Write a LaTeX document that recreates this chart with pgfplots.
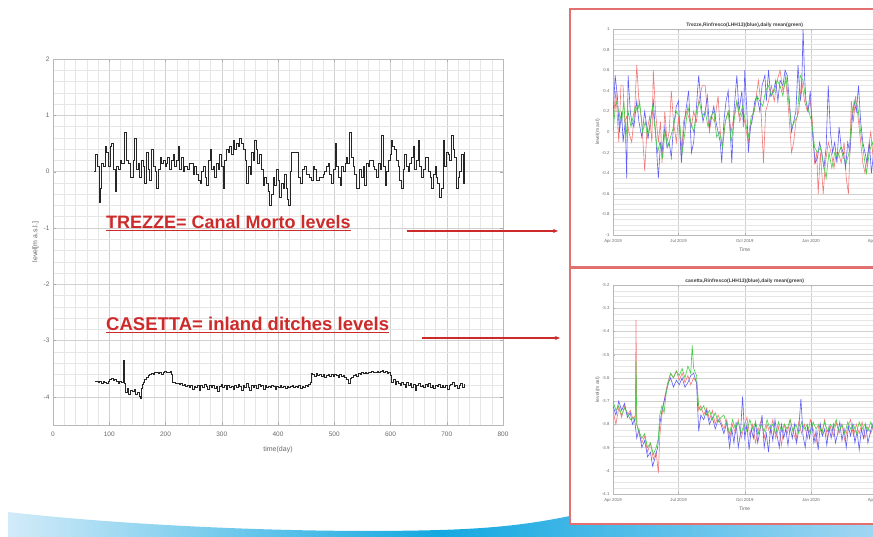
\documentclass[border=0pt]{standalone}
\usepackage{pgfplots}
\usepackage{pgfplotstable}
\pgfplotsset{compat=1.18}
\usepackage{fontspec}
\setmainfont{Liberation Sans}
\usetikzlibrary{arrows.meta}

\definecolor{gridmaj}{RGB}{208,208,208}
\definecolor{gridmin}{RGB}{230,230,230}
\definecolor{ticktxt}{RGB}{105,105,105}
\definecolor{slidered}{RGB}{205,42,42}
\definecolor{framered}{RGB}{226,112,112}
\definecolor{sBlue}{RGB}{95,95,245}
\definecolor{sRed}{RGB}{245,120,120}
\definecolor{sGreen}{RGB}{70,205,70}
\definecolor{swLight}{RGB}{210,235,248}
\definecolor{swMid}{RGB}{20,168,224}
\definecolor{swRight}{RGB}{160,214,242}

% Trezze: daily level, main series (day, level)
\pgfplotstableread{
73 0.00
75 0.30
78 0.10
82 -0.55
84 -0.30
86 0.15
90 0.10
93 0.45
95 0.35
98 0.10
101 0.45
104 0.50
107 0.05
110 -0.35
113 0.10
116 0.05
119 0.20
122 0.15
126 0.70
130 0.20
134 0.15
138 -0.10
142 0.20
145 0.60
148 0.05
151 0.15
154 -0.10
157 0.20
160 0.10
163 -0.20
166 0.35
169 0.05
172 -0.15
175 0.40
178 0.10
181 0.00
184 -0.30
187 0.05
190 0.25
193 0.15
196 0.20
199 0.10
201 0.15
204 0.25
207 0.05
210 0.20
213 0.30
216 0.10
219 0.20
222 0.45
225 0.05
228 0.25
231 0.00
234 0.10
238 0.05
242 0.15
246 0.15
249 -0.05
252 0.10
255 -0.05
258 -0.15
261 -0.20
264 0.00
267 0.10
270 -0.10
273 -0.25
276 0.20
279 0.40
282 0.05
285 0.10
287 -0.10
290 0.15
293 0.05
296 0.30
299 0.10
302 -0.30
305 0.20
308 0.40
311 0.35
314 0.45
317 0.30
320 0.55
323 0.40
326 0.50
329 0.45
332 0.60
335 0.50
338 0.40
341 0.20
344 -0.20
347 0.10
350 -0.05
353 0.35
356 0.20
358 0.55
361 0.40
364 0.15
367 0.30
370 0.05
373 -0.25
376 -0.10
379 -0.20
382 -0.35
385 -0.60
388 -0.40
391 -0.10
394 -0.25
397 0.05
400 -0.15
403 -0.45
406 -0.20
409 -0.30
412 -0.05
415 -0.30
417 -0.50
419 -0.60
422 0.00
424 0.35
428 0.35
433 0.35
436 -0.10
439 -0.20
443 0.05
447 0.10
450 -0.05
453 -0.05
456 -0.10
459 -0.15
462 0.10
465 0.05
468 -0.15
471 -0.15
474 -0.10
477 -0.10
480 -0.05
483 0.00
486 0.10
489 0.15
492 -0.05
495 -0.20
498 0.05
501 0.50
504 0.10
507 -0.10
510 -0.25
513 0.10
516 0.00
519 0.15
521 0.25
524 0.15
527 0.70
530 0.25
533 0.10
536 -0.05
539 -0.30
542 -0.30
545 0.05
548 -0.10
551 0.10
554 -0.25
557 0.15
560 0.10
563 0.20
566 0.20
569 0.10
572 0.05
575 -0.10
578 0.15
581 0.05
584 0.65
587 0.10
590 -0.25
593 0.00
596 0.20
599 0.30
601 0.55
604 0.45
607 0.40
610 0.20
613 0.10
616 -0.15
619 -0.30
622 0.05
625 0.30
628 0.10
631 0.00
634 0.15
637 0.25
640 0.45
643 0.05
646 0.20
649 0.55
652 0.10
655 -0.10
658 0.05
661 0.25
664 0.25
667 0.00
670 -0.10
673 -0.30
676 -0.05
679 0.10
681 -0.10
684 -0.20
687 -0.45
690 -0.30
693 0.55
696 0.10
699 0.35
702 0.30
705 0.20
708 0.65
711 0.40
714 0.25
717 -0.30
720 -0.10
723 0.00
726 0.30
729 -0.20
732 0.35
}\trezze

% Casetta: daily level, main series (day, level)
\pgfplotstableread{
74 -3.73
77 -3.72
80 -3.74
83 -3.73
86 -3.76
89 -3.72
92 -3.74
95 -3.77
98 -3.72
101 -3.70
104 -3.68
107 -3.71
110 -3.70
113 -3.73
116 -3.76
119 -3.72
122 -3.74
125 -3.73
126 -3.35
127 -3.76
129 -3.92
132 -3.85
135 -3.95
138 -3.88
141 -3.90
144 -3.86
147 -3.96
150 -3.92
153 -4.00
155 -4.02
157 -3.85
159 -3.78
161 -3.75
163 -3.70
166 -3.66
169 -3.62
172 -3.60
175 -3.58
178 -3.61
181 -3.57
184 -3.56
187 -3.59
190 -3.57
193 -3.60
196 -3.56
199 -3.55
202 -3.57
205 -3.56
208 -3.55
210 -3.60
212 -3.74
215 -3.75
218 -3.77
221 -3.76
224 -3.78
227 -3.77
230 -3.80
233 -3.78
236 -3.82
239 -3.80
242 -3.84
245 -3.79
248 -3.86
251 -3.81
254 -3.83
257 -3.79
260 -3.88
263 -3.80
266 -3.84
269 -3.78
272 -3.82
275 -3.86
278 -3.80
281 -3.83
284 -3.79
287 -3.85
290 -3.81
293 -3.90
296 -3.82
299 -3.78
302 -3.84
305 -3.80
308 -3.86
311 -3.79
314 -3.83
317 -3.81
320 -3.87
323 -3.80
326 -3.84
329 -3.78
332 -3.82
335 -3.88
338 -3.80
341 -3.84
344 -3.77
347 -3.83
350 -3.89
353 -3.79
356 -3.84
359 -3.80
362 -3.85
365 -3.78
368 -3.82
371 -3.80
374 -3.86
377 -3.79
380 -3.83
383 -3.81
386 -3.84
389 -3.80
392 -3.82
395 -3.86
398 -3.81
401 -3.83
404 -3.79
407 -3.84
410 -3.82
413 -3.85
416 -3.81
419 -3.84
422 -3.82
425 -3.80
428 -3.84
431 -3.81
434 -3.83
437 -3.80
440 -3.85
443 -3.81
446 -3.83
449 -3.80
452 -3.82
455 -3.78
457 -3.75
459 -3.58
462 -3.60
465 -3.63
468 -3.59
471 -3.62
474 -3.60
477 -3.64
480 -3.61
483 -3.65
486 -3.62
489 -3.60
492 -3.63
495 -3.61
498 -3.64
501 -3.60
504 -3.62
507 -3.66
510 -3.61
513 -3.64
516 -3.62
519 -3.66
522 -3.70
525 -3.76
528 -3.68
531 -3.65
534 -3.62
537 -3.60
540 -3.63
543 -3.58
546 -3.60
549 -3.57
552 -3.59
555 -3.56
558 -3.58
561 -3.56
564 -3.57
567 -3.55
570 -3.57
573 -3.56
576 -3.55
579 -3.57
582 -3.55
585 -3.54
588 -3.56
591 -3.55
594 -3.58
597 -3.56
600 -3.62
602 -3.74
605 -3.70
608 -3.78
611 -3.72
614 -3.76
617 -3.80
620 -3.74
623 -3.78
626 -3.84
629 -3.75
632 -3.80
635 -3.77
638 -3.83
641 -3.78
644 -3.88
647 -3.80
650 -3.76
653 -3.82
656 -3.79
659 -3.84
662 -3.78
665 -3.81
668 -3.77
671 -3.83
674 -3.80
677 -3.85
680 -3.79
683 -3.82
686 -3.78
689 -3.84
692 -3.80
695 -3.83
698 -3.79
701 -3.86
704 -3.80
707 -3.78
710 -3.75
713 -3.82
716 -3.79
719 -3.85
722 -3.80
725 -3.77
728 -3.83
732 -3.78
}\casetta

% Trezze sensors, days since 1 Apr 2019
\pgfplotstableread{
0 0.15
3 0.55
6 0.35
9 0.00
12 0.20
14 -0.10
17 0.10
19 -0.45
21 0.55
24 0.20
26 0.10
29 0.05
33 0.30
36 0.10
40 -0.05
44 0.20
47 0.05
49 -0.05
52 0.10
56 0.30
59 0.00
63 -0.45
66 -0.10
68 -0.20
72 0.05
75 -0.15
78 -0.10
81 -0.25
84 0.05
88 0.25
91 0.30
95 -0.30
98 0.00
101 0.20
105 0.40
109 -0.20
112 -0.10
116 0.25
119 0.55
122 0.30
125 0.10
128 0.20
131 0.35
134 0.05
137 0.15
140 0.25
143 0.10
146 0.00
149 -0.10
151 -0.30
154 0.10
157 0.30
160 0.40
163 0.00
165 -0.30
168 0.20
172 0.55
175 0.20
179 0.40
181 0.05
183 0.60
186 0.20
188 -0.20
191 0.05
193 0.10
197 0.30
200 0.35
204 0.20
207 0.45
211 0.55
213 0.30
216 0.60
219 0.35
223 0.40
226 0.50
229 0.30
232 0.50
236 0.45
239 0.60
242 0.55
245 0.30
248 0.00
251 0.10
254 0.20
257 0.65
260 0.30
262 0.40
264 1.00
266 0.55
268 0.30
271 0.20
274 0.40
276 0.10
278 -0.10
281 -0.30
284 -0.25
287 -0.10
290 -0.20
293 -0.35
296 -0.15
299 0.45
302 0.00
305 -0.20
308 -0.10
311 -0.30
314 0.05
317 -0.15
320 -0.20
323 -0.35
326 -0.10
329 -0.20
332 0.10
335 0.30
338 0.20
341 0.45
344 0.10
347 -0.10
350 -0.20
353 -0.30
356 -0.10
359 -0.40
362 -0.20
366 0.00
}\tzBlue

\pgfplotstableread{
0 0.10
4 0.40
8 -0.10
11 0.45
14 0.45
16 0.10
19 0.15
22 0.00
26 -0.10
30 0.20
33 0.65
36 0.30
40 0.10
44 -0.38
47 0.00
51 0.15
54 -0.10
56 0.60
59 0.20
63 -0.10
66 0.10
68 -0.30
72 0.20
75 -0.10
78 0.00
81 0.40
84 0.10
88 -0.10
91 0.15
95 -0.25
98 0.10
102 0.20
105 0.15
109 0.05
112 0.20
116 0.10
119 0.30
124 0.45
128 0.45
131 0.20
134 0.00
137 0.15
141 0.10
146 0.35
149 0.00
152 -0.15
156 0.10
160 0.20
164 0.00
168 0.15
172 0.30
176 0.10
180 0.20
184 0.05
188 -0.10
192 0.10
196 0.20
202 0.50
205 0.30
209 -0.30
212 0.20
216 0.30
220 0.45
224 0.30
228 0.50
232 0.60
236 0.40
240 0.50
244 0.20
248 -0.20
251 -0.10
254 0.10
258 0.20
262 0.50
266 0.30
270 0.20
274 0.30
277 0.10
280 -0.30
283 -0.20
285 -0.60
288 -0.20
292 -0.60
295 -0.30
299 -0.10
303 -0.20
307 -0.35
310 -0.20
313 -0.20
317 -0.30
321 -0.10
324 -0.45
327 -0.60
329 -0.20
331 0.30
334 0.10
337 0.35
341 0.10
344 -0.10
347 -0.30
350 -0.40
354 -0.20
358 0.00
362 -0.30
366 0.10
}\tzRed

\pgfplotstableread{
0 0.00
4 0.30
8 0.20
12 0.10
15 0.30
18 -0.05
21 0.20
25 0.05
28 0.15
31 0.25
34 0.20
37 0.30
41 0.00
45 0.10
48 -0.05
52 0.10
55 0.25
58 0.05
62 -0.20
65 -0.10
69 -0.25
72 0.00
76 -0.15
80 -0.05
84 0.05
88 0.20
92 0.15
96 -0.20
100 0.00
104 0.25
108 0.10
112 0.00
116 0.20
120 0.30
124 0.15
128 0.20
132 0.05
136 0.15
140 0.20
144 -0.05
148 0.00
152 -0.15
156 0.10
160 0.20
164 -0.10
168 0.10
172 0.30
176 0.15
180 0.25
184 0.10
188 -0.05
192 0.15
196 0.20
200 0.35
204 0.30
208 0.25
212 0.40
216 0.45
220 0.35
224 0.40
228 0.50
232 0.45
236 0.35
240 0.55
244 0.30
248 0.05
252 0.10
256 0.15
260 0.55
264 0.50
268 0.30
272 0.20
276 0.10
280 -0.15
284 -0.20
288 -0.15
292 -0.30
296 -0.45
300 -0.20
304 -0.35
308 -0.20
312 -0.25
316 -0.15
320 -0.25
324 -0.30
328 -0.20
332 0.20
336 0.30
340 0.25
344 0.00
348 -0.20
352 -0.40
356 -0.20
360 -0.10
364 -0.20
}\tzGreen

% Casetta sensors, days since 1 Apr 2019
\pgfplotstableread{
0 -3.72
4 -3.76
8 -3.70
12 -3.74
16 -3.71
20 -3.77
24 -3.75
27 -3.80
30 -3.78
33 -3.86
36 -3.82
40 -3.90
44 -3.87
48 -3.94
52 -3.92
55 -3.98
58 -3.95
62 -3.90
65 -3.80
68 -3.74
71 -3.70
74 -3.66
77 -3.62
80 -3.60
84 -3.64
88 -3.61
92 -3.63
96 -3.60
100 -3.64
104 -3.62
108 -3.59
112 -3.58
116 -3.62
119 -3.83
122 -3.76
126 -3.78
130 -3.74
134 -3.80
138 -3.77
142 -3.82
146 -3.78
150 -3.80
154 -3.84
158 -3.79
162 -3.90
165 -3.82
168 -3.88
171 -3.79
174 -3.90
177 -3.84
180 -3.68
183 -3.86
186 -3.80
189 -3.91
192 -3.82
195 -3.86
198 -3.79
201 -3.88
204 -3.83
207 -3.76
210 -3.90
213 -3.84
216 -3.92
219 -3.81
222 -3.87
225 -3.78
228 -3.85
231 -3.90
234 -3.80
237 -3.86
240 -3.82
243 -3.89
246 -3.81
249 -3.86
252 -3.80
255 -3.88
258 -3.82
261 -3.69
264 -3.85
267 -3.90
270 -3.81
273 -3.86
276 -3.79
279 -3.88
282 -3.83
285 -3.91
288 -3.80
291 -3.85
294 -3.82
297 -3.89
300 -3.81
303 -3.86
306 -3.80
309 -3.88
312 -3.84
315 -3.79
318 -3.87
321 -3.82
324 -3.90
327 -3.81
330 -3.85
333 -3.80
336 -3.88
339 -3.83
342 -3.91
345 -3.82
348 -3.86
351 -3.80
354 -3.88
357 -3.84
360 -3.80
364 -3.86
}\csBlue

\pgfplotstableread{
0 -3.74
4 -3.80
8 -3.73
12 -3.77
16 -3.72
20 -3.76
24 -3.74
28 -3.78
31 -3.76
32 -3.35
33 -3.80
36 -3.84
40 -3.88
44 -3.85
48 -3.92
52 -3.88
56 -3.95
60 -3.92
63 -4.01
65 -3.85
68 -3.76
72 -3.68
76 -3.62
80 -3.58
84 -3.60
88 -3.57
92 -3.61
96 -3.58
100 -3.62
104 -3.59
108 -3.63
112 -3.60
116 -3.62
119 -3.74
122 -3.72
126 -3.76
130 -3.73
134 -3.78
138 -3.74
142 -3.80
146 -3.76
150 -3.79
154 -3.82
158 -3.78
162 -3.86
166 -3.80
170 -3.84
174 -3.78
178 -3.86
182 -3.81
186 -3.77
190 -3.85
194 -3.80
198 -3.88
202 -3.82
206 -3.78
210 -3.86
214 -3.80
218 -3.84
222 -3.78
226 -3.86
230 -3.81
234 -3.89
238 -3.80
242 -3.84
246 -3.78
250 -3.83
254 -3.87
258 -3.79
262 -3.84
266 -3.80
270 -3.86
274 -3.78
278 -3.82
282 -3.88
286 -3.80
290 -3.84
294 -3.78
298 -3.86
302 -3.81
306 -3.85
310 -3.79
314 -3.84
318 -3.80
322 -3.87
326 -3.81
330 -3.78
334 -3.85
338 -3.80
342 -3.84
346 -3.79
350 -3.86
354 -3.81
358 -3.84
362 -3.80
366 -3.83
}\csRed

\pgfplotstableread{
0 -3.70
4 -3.74
8 -3.72
12 -3.76
16 -3.73
20 -3.75
24 -3.78
28 -3.77
31 -3.78
32 -3.53
33 -3.80
36 -3.83
40 -3.86
44 -3.84
48 -3.90
52 -3.88
56 -3.93
60 -3.90
63 -3.86
65 -3.76
68 -3.72
71 -3.75
74 -3.66
77 -3.62
80 -3.58
84 -3.60
88 -3.57
92 -3.59
96 -3.56
100 -3.60
104 -3.55
108 -3.58
110 -3.46
112 -3.56
116 -3.59
119 -3.72
122 -3.74
126 -3.72
130 -3.76
134 -3.74
138 -3.78
142 -3.75
146 -3.79
150 -3.77
154 -3.76
158 -3.80
162 -3.84
166 -3.78
170 -3.82
174 -3.79
178 -3.84
182 -3.80
186 -3.83
190 -3.78
194 -3.82
198 -3.79
202 -3.84
206 -3.80
210 -3.83
214 -3.78
218 -3.82
222 -3.80
226 -3.84
230 -3.79
234 -3.83
238 -3.80
242 -3.82
246 -3.78
250 -3.83
254 -3.80
258 -3.84
262 -3.79
266 -3.82
270 -3.80
274 -3.84
278 -3.79
282 -3.82
286 -3.80
290 -3.84
294 -3.79
298 -3.83
302 -3.80
306 -3.82
310 -3.78
314 -3.83
318 -3.80
322 -3.84
326 -3.79
330 -3.82
334 -3.80
338 -3.84
342 -3.79
346 -3.82
350 -3.80
354 -3.83
358 -3.79
362 -3.82
366 -3.80
}\csGreen

\pgfplotsset{
  matlabgrid/.style={
    grid=both,
    major grid style={gridmaj, line width=0.4pt},
    minor grid style={gridmin, line width=0.35pt},
    axis line style={gray!55},
    tick style={gray!65},
    tick align=inside,
    /pgf/number format/assume math mode=true,
    axis background/.style={fill=white},
  },
  panel/.style={
    matlabgrid,
    scale only axis,
    anchor=south west,
    width=263.5pt,
    xmin=0, xmax=366,
    xtick={0,91,183,275,366},
    xticklabels={Apr 2019,Jul 2019,Oct 2019,Jan 2020,Apr 2020},
    minor x tick num=0,
    minor y tick num=3,
    major tick length=2pt, minor tick length=0pt,
    ticklabel style={font=\fontsize{4.3}{5}\selectfont, text=ticktxt},
    xticklabel style={yshift=-1pt},
    xlabel={Time}, ylabel={level(m asl)},
    label style={font=\fontsize{5}{6}\selectfont, text=ticktxt},
    xlabel style={yshift=2pt},
    ylabel style={yshift=-5pt},
    title style={font=\bfseries\fontsize{5}{6}\selectfont, text=black!75, yshift=-8pt},
  },
}

\begin{document}
\begin{tikzpicture}[x=1pt,y=1pt]
\useasboundingbox (0,0) rectangle (873,537);
\clip (0,0) rectangle (873,537);
\fill[white] (0,0) rectangle (873,537);

% lower-left corners of the three axis boxes
\coordinate (mainSW) at (53,112);
\coordinate (topSW) at (613,302);
\coordinate (botSW) at (613,43);

% slide decoration along the bottom edge
\shade[left color=swLight, right color=swRight, middle color=swMid]
  (8,25) .. controls (120,12) and (300,3) .. (440,7)
  .. controls (510,9) and (545,16) .. (575,22) -- (873,14) -- (873,0) -- (8,0) -- cycle;

% frames of the two sensor panels
\draw[framered, line width=1.6pt, fill=white] (570,270) rectangle (890,528);
\draw[framered, line width=1.6pt, fill=white] (570,13) rectangle (890,269);

% main chart: Trezze and Casetta levels
\begin{axis}[
  matlabgrid,
  at={(mainSW)}, anchor=south west, scale only axis,
  width=450pt, height=366pt,
  xmin=0, xmax=800, ymin=-4.5, ymax=2,
  xtick={0,100,...,800}, ytick={-4,-3,-2,-1,0,1,2},
  minor x tick num=4, minor y tick num=4,
  major tick length=3pt, minor tick length=0pt,
  ticklabel style={font=\fontsize{6.5}{8}\selectfont, text=ticktxt},
  xticklabel style={yshift=-3pt},
  xlabel={time(day)}, ylabel={level[m a.s.l.]},
  label style={font=\fontsize{7}{8}\selectfont, text=ticktxt},
  xlabel style={yshift=-3pt},
  ylabel style={yshift=-2pt},
]
\addplot[const plot, black!85, line width=0.55pt] table {\trezze};
\addplot[const plot, black!85, line width=0.9pt] table {\casetta};
\end{axis}

% Trezze sensor panel
\begin{axis}[
  panel, at={(topSW)}, height=206pt,
  ymin=-1, ymax=1,
  ytick={-1,-0.8,-0.6,-0.4,-0.2,0,0.2,0.4,0.6,0.8,1},
  title={Trezze,Rinfresco(LHH13)(blue),daily mean(green)},
]
\addplot[sRed, line width=0.6pt] table {\tzRed};
\addplot[sBlue, line width=0.6pt] table {\tzBlue};
\addplot[sGreen, line width=0.6pt] table {\tzGreen};
\end{axis}

% Casetta sensor panel
\begin{axis}[
  panel, at={(botSW)}, height=209pt,
  ymin=-4.1, ymax=-3.2,
  ytick={-4.1,-4,-3.9,-3.8,-3.7,-3.6,-3.5,-3.4,-3.3,-3.2},
  title={casetta,Rinfresco(LHH13)(blue),daily mean(green)},
]
\addplot[sRed, line width=0.6pt] table {\csRed};
\addplot[sBlue, line width=0.6pt] table {\csBlue};
\addplot[sGreen, line width=0.6pt] table {\csGreen};
\end{axis}

% captions and pointers
\node[anchor=west, inner sep=0pt, text=slidered,
      font=\bfseries\fontsize{18}{20}\selectfont] at (106,314)
  {\underline{TREZZE= Canal Morto levels}};
\node[anchor=west, inner sep=0pt, text=slidered,
      font=\bfseries\fontsize{18.5}{20}\selectfont] at (106,212)
  {\underline{CASETTA= inland ditches levels}};
\draw[slidered, line width=1.4pt, -{Stealth[length=5pt,width=4pt]}] (407,306) -- (558,306);
\draw[slidered, line width=1.4pt, -{Stealth[length=5pt,width=4pt]}] (422,199) -- (560,199);
\end{tikzpicture}
\end{document}
